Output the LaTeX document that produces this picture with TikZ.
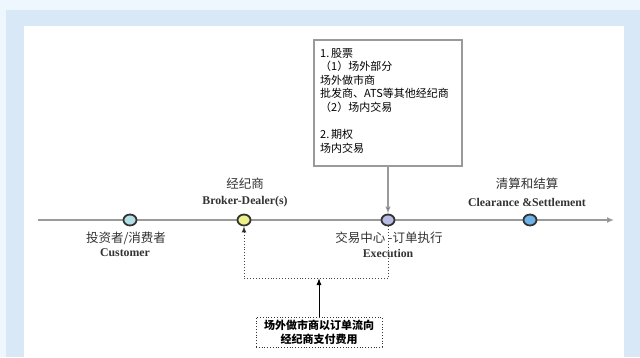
\documentclass[tikz,border=0pt]{standalone}
\usepackage{fontspec}
\setmainfont{Liberation Serif}
\newfontfamily\cjk{Noto Sans CJK SC}
\usetikzlibrary{arrows.meta,shapes.geometric}
\definecolor{outerbg}{HTML}{EFF7FE}
\definecolor{framebg}{HTML}{D8E8F6}
\definecolor{linegray}{HTML}{9A9A9A}
\definecolor{tipgray}{HTML}{444444}
\definecolor{custc}{HTML}{B4DEE6}
\definecolor{brokc}{HTML}{EEF08A}
\definecolor{execc}{HTML}{B8BCE4}
\definecolor{clearc}{HTML}{6EB2E8}
\definecolor{txtgray}{HTML}{333333}
\tikzset{
  dotnode/.style={ellipse, draw=txtgray, line width=1.8pt, minimum width=13pt, minimum height=11pt, inner sep=0pt},
  cnlabel/.style={font=\cjk\fontsize{12.5}{14}\selectfont, text=txtgray, inner sep=0pt},
  enlabel/.style={font=\bfseries\fontsize{11.8}{14}\selectfont, text=txtgray, inner sep=0pt},
  feebox/.style={draw=txtgray, dotted, line width=0.8pt, align=center, inner sep=0pt, minimum width=126pt, minimum height=30pt, font=\cjk\bfseries\fontsize{11}{14}\selectfont, text=black},
  axisline/.style={draw=linegray, line width=1.6pt},
  flowline/.style={draw=tipgray, dotted, line width=0.9pt},
}
\begin{document}
\begin{tikzpicture}[x=1pt,y=-1pt]
\useasboundingbox (0,0) rectangle (640,357);
\fill[outerbg] (0,0) rectangle (640,357);
\fill[framebg] (6,10) rectangle (640,357);
\fill[white] (24,26) rectangle (624,357);

% axis
\coordinate (axstart) at (38,220);
\coordinate (axend) at (614,220);
\draw[axisline, -{Latex[length=7pt,width=6pt,fill=tipgray]}] (axstart) -- (axend);

% dots
\node[dotnode, fill=custc] (cu) at (130,220) {};
\node[dotnode, fill=brokc] (br) at (244,220) {};
\node[dotnode, fill=execc] (ex) at (388,220) {};
\node[dotnode, fill=clearc] (cl) at (530,220) {};

% labels
\node[cnlabel] (cucn) at (126,238) {投资者/消费者};
\node[enlabel] (cuen) at (125,253) {Customer};
\node[cnlabel] (brcn) at (245,184) {经纪商};
\node[enlabel] (bren) at (245,202) {Broker-Dealer(s)};
\node[cnlabel] (excn) at (389,238) {交易中心 -订单执行};
\node[enlabel] (exen) at (388,253) {Execution};
\node[cnlabel] (clcn) at (527,184) {清算和结算};
\node[enlabel] (clen) at (527,202) {Clearance \&Settlement};

% info box
\draw[linegray, line width=1.3pt, fill=white] (314,40) rectangle (462,166);
\coordinate (boxbot) at (388,166);
\node[anchor=north west, align=left, inner sep=0pt, font=\cjk\fontsize{11}{13.6}\selectfont, text=black] (info) at (320,48) {1.\,股票\\（1）场外部分\\场外做市商\\批发商、ATS等其他经纪商\\（2）场内交易\\[13.6pt]2.\,期权\\场内交易};
\draw[linegray, line width=1.2pt, -{Latex[length=7pt,width=5.5pt,fill=tipgray]}] (boxbot) -- (ex.north);

% dotted flow
\coordinate (c1) at (388,278);
\coordinate (c2) at (244,278);
\draw[flowline, -{Latex[length=6pt,width=5pt,fill=black]}] (ex.south) -- (c1) -- (c2) -- (br.south);

% fee box
\node[feebox] (fee) at (319,332) {场外做市商以订单流向\\经纪商支付费用};
\coordinate (c3) at (319,278);
\draw[black, line width=1pt, -{Latex[length=7pt,width=5pt]}] (fee.north) -- (c3);
\end{tikzpicture}
\end{document}
